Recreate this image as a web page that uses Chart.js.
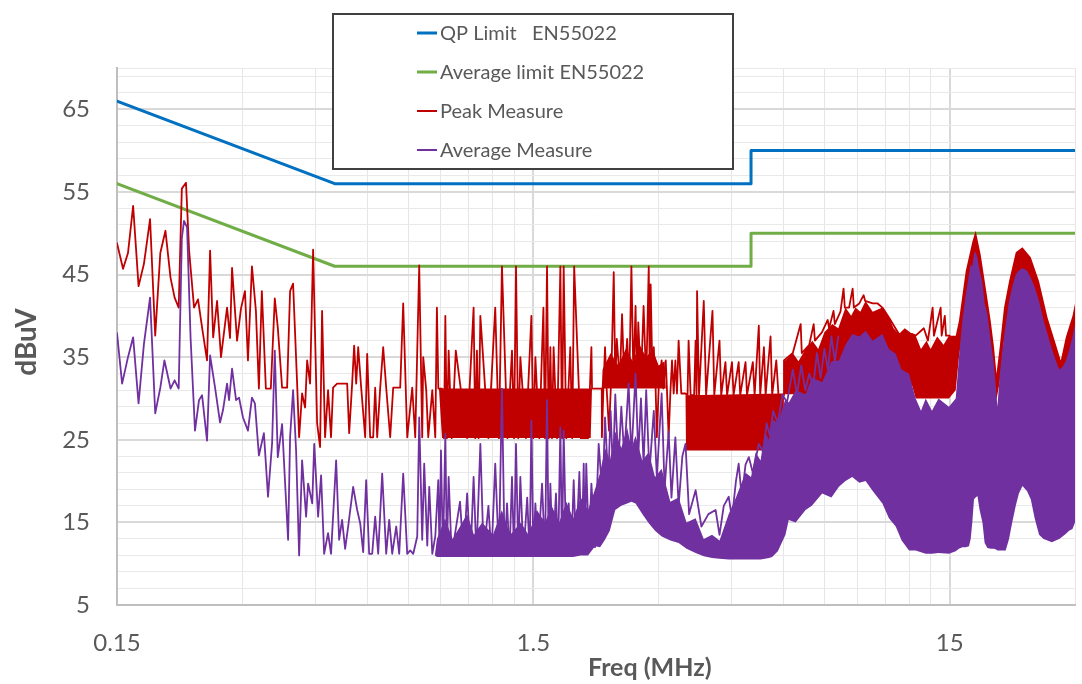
<!DOCTYPE html>
<html><head><meta charset="utf-8">
<script src="https://cdn.jsdelivr.net/npm/chart.js@4.4.1/dist/chart.umd.min.js"></script>
<style>html,body{margin:0;padding:0;background:#fff;}canvas{display:block;}</style>
</head><body>
<canvas id="c" width="1082" height="684"></canvas>
<script>
// ---------- DATA (frequency in MHz, level in dBuV) ----------
const qpLimitFreq = [0.15, 0.5, 5, 5, 30];
const qpLimitVal  = [66, 56, 56, 60, 60];
const avgLimitFreq = [0.15, 0.5, 5, 5, 30];
const avgLimitVal  = [56, 46, 46, 50, 50];

const peakFreq = [
0.150,0.1551,0.1594,0.1640,0.1690,0.1741,0.1801,0.1853,0.1906,0.1961,
0.2017,0.2063,0.2110,0.2147,0.2197,0.2235,0.2297,0.2348,0.2401,0.2468,
0.2510,0.2553,0.2609,0.2666,0.2757,0.2803,0.2834,0.2914,0.2978,0.3044,
0.3095,0.3164,0.3234,0.3288,0.3342,0.3417,0.3512,0.3590,0.3650,0.3738,
0.3843,0.3907,0.3972,0.4062,0.4107,0.4175,0.4245,0.4293,0.4364,0.4437,
0.4537,0.4612,0.4663,0.4741,0.4820,0.4900,0.4955,0.5068,0.5357,0.5417,
0.5507,0.5568,0.5631,0.5694,0.5789,0.5918,0.5984,0.6084,0.6186,0.6255,
0.6325,0.6431,0.6538,0.6648,0.6796,0.6910,0.7183,0.7303,0.7468,0.7677,
0.7806,0.7980,0.8113,0.8158,0.8295,0.8388,0.8578,0.8721,0.8800,0.8870,
0.9050,
0.915,0.922,0.930,0.939,0.955,0.977,1.040,1.078,1.088,1.098,
1.108,1.119,1.170,1.215,1.240,1.261,1.300,1.333,1.348,1.363,
1.380,1.396,1.440,1.484,1.500,1.517,1.550,1.586,1.600,1.618,
1.633,1.648,1.663,1.678,1.710,1.742,1.758,1.774,1.800,1.840,
1.860,1.880,1.950,2.030,2.068,2.075,
2.190,2.192,2.210,2.230,2.250,2.280,2.310,2.340,2.360,2.380,
2.420,2.450,2.480,2.520,2.550,2.580,2.610,2.640,2.660,2.680,
2.720,2.760,2.800,2.840,2.855,2.870,2.900,2.920,2.950,2.970,
3.000,3.050,3.080,3.120,3.140,3.170,3.200,3.230,3.260,3.290,
3.320,3.350,3.400,3.480,
3.520,3.540,3.580,3.650,3.680,3.700,3.710,3.750,3.850,3.900,
4.040,4.080,4.200,4.240,4.340,4.380,4.500,4.540,4.670,4.710,
4.850,4.890,5.050,5.100,5.220,5.260,5.370,5.420,5.570,5.620,
5.750,5.820,5.970,
6.000,6.300,6.580,6.620,6.900,7.070,7.120,7.400,7.640,7.700,
7.890,7.950,8.200,8.340,8.400,8.600,8.770,8.830,9.100,9.320,
9.400,9.800,10.070,10.340,10.720,11.330,12.200,12.430,13.000,13.300,
13.650,13.750,14.270,14.350,14.600,14.700,15.000
];
const peakVal = [
48.8,45.7,47.6,53.3,43.6,46.3,51.7,37.6,47.6,50.3,
44.6,42.2,41.0,55.4,56.1,47.9,41.0,42.0,38.6,34.6,
47.9,37.4,41.8,35.0,41.0,37.3,45.8,37.0,40.9,43.0,
34.6,46.0,40.6,31.2,43.0,31.2,31.2,42.1,38.6,31.3,
31.3,43.0,43.9,31.8,25.3,30.6,28.9,34.6,31.8,48.0,
27.0,24.1,40.6,25.3,31.0,25.3,31.3,31.8,31.8,25.8,
31.8,36.4,31.8,36.2,31.3,25.3,35.4,25.3,25.3,31.3,
25.3,31.3,36.2,31.3,25.3,31.3,31.3,41.5,25.3,31.3,
25.3,46.1,25.3,35.0,31.0,25.3,31.0,25.3,41.0,31.2,
31.2,
25.2,40.0,25.2,35.8,25.2,35.8,25.2,41.0,25.2,35.8,
25.2,40.0,25.2,41.0,25.2,46.0,25.2,35.8,25.2,46.0,
25.2,35.0,25.2,40.0,25.2,35.0,25.2,41.0,25.2,46.0,
25.2,36.2,25.2,36.2,25.2,46.0,25.2,46.0,25.2,36.2,
25.2,46.0,25.2,25.2,36.2,31.2,
31.2,25.3,31.2,36.2,31.2,26.1,33.0,45.3,32.0,37.2,
32.0,40.2,32.0,37.2,32.0,46.0,32.0,41.2,32.0,39.2,
32.0,41.2,32.0,46.0,32.0,43.8,32.0,36.2,31.2,25.3,
31.2,34.6,31.2,34.6,31.2,25.3,30.6,34.6,30.6,34.6,
30.6,37.0,30.6,30.6,
30.4,37.0,30.4,30.4,37.0,30.4,43.0,30.4,41.8,30.4,
40.6,30.4,37.0,30.4,34.4,30.4,34.4,30.4,34.4,30.4,
34.4,30.4,34.4,30.4,38.8,30.4,36.2,30.4,37.5,30.4,
34.6,30.4,30.4,
34.6,35.5,39.0,35.5,36.5,39.0,37.0,38.0,39.5,38.5,
40.6,39.0,40.5,43.3,41.0,41.0,43.3,41.0,41.5,42.5,
41.8,41.5,41.5,41.0,39.8,37.8,37.8,37.6,38.5,37.0,
41.0,37.6,41.0,37.6,40.0,37.6,37.6
];

const avgFreq = [
0.150,0.1543,0.1594,0.1640,0.1690,0.1741,0.1801,0.1853,0.1906,0.1950,
0.2017,0.2063,0.2110,0.2147,0.2173,0.2210,0.2253,0.2309,0.2361,0.2401,
0.2468,0.2510,0.2580,0.2652,0.2696,0.2757,0.2788,0.2834,0.2898,0.2946,
0.3011,0.3095,0.3164,0.3216,0.3288,0.3380,0.3458,0.3537,0.3590,0.3650,
0.3738,0.3801,0.3864,0.3907,0.3972,0.4039,0.4107,0.4175,0.4269,0.4316,
0.4416,0.4465,0.4562,0.4638,0.4716,0.4820,0.4900,0.5040,0.5124,0.5209,
0.5297,0.5386,0.5538,0.5662,0.5757,0.5853,0.5951,0.6050,0.6152,0.6255,
0.6360,0.6502,0.6648,0.6759,0.6872,0.7027,0.7144,0.7303,0.7468,0.7592,
0.7720,0.7893,0.7980,0.8113,0.8203,0.8343,0.8435,0.8578,0.8721,0.8866,
0.8930,0.9000,0.9100,0.9220,0.9300,0.9390,0.9550,1.0000,1.0200,1.0400,
1.0600,1.0780,1.0950,1.1190,1.1400,1.1700,1.1900,1.2150,1.2400,1.2610,
1.2800,1.2970,1.3150,1.3330,1.3480,1.3630,1.3800,1.3960,1.4200,1.4500,
1.4700,1.4840,1.5000,1.5170,1.5400,1.5740,1.6000,1.6180,1.6330,1.6480,
1.6700,1.7000,1.7200,1.7420,1.7580,1.7740,1.8000,1.8240,1.8500,1.8750,
1.9000,1.9350,1.9600,1.9820,1.9950,2.0100,2.0400,2.0680,2.1100,2.1530,
2.2000,2.2300,2.2700,2.3000,2.3300,2.3600,2.4000,2.4400,2.4800,2.5400,
2.5800,2.6400,2.6800,2.7200,2.7600,2.8000,2.8500,2.9200,2.9700,3.0500,
3.1000,3.1700,3.2200,3.2900,3.3500,3.4200,3.4800,3.5500,3.6800,3.8000,
3.9500,4.1100,4.2000,4.3000,4.4200,4.5000,4.6000,4.6700,4.7500,4.8500,
4.9400,5.0500,5.2200,5.3500,5.4500,5.5500,5.6500,5.8000,5.9500,6.1000,
6.3000,6.4500,6.6000,6.7500,6.9000,7.0500,7.2000,7.3500,7.5000,7.6500,
7.8000,7.9500,8.1000
];
const avgVal = [
37.9,31.8,35.0,37.4,29.4,36.6,42.2,28.2,31.3,34.6,
31.2,32.2,31.2,49.4,51.5,50.7,37.4,26.1,29.8,30.4,
24.9,35.2,31.3,27.1,28.6,31.8,29.8,33.6,29.8,30.1,
27.7,26.1,30.1,29.4,23.1,25.8,18.1,24.6,35.8,22.9,
26.9,19.7,12.9,25.3,31.0,23.7,11.0,22.5,15.7,19.7,
17.3,24.5,15.7,20.7,11.2,13.7,11.2,22.5,12.9,15.3,
11.8,14.5,19.3,16.5,14.9,11.4,20.1,11.2,11.2,15.7,
11.2,20.9,11.2,15.3,11.2,14.5,11.2,20.9,11.2,11.6,
11.2,13.3,27.7,12.9,22.1,12.2,19.3,11.2,13.3,20.1,
11.0,23.7,11.0,25.7,11.0,20.5,11.0,17.5,11.0,18.5,
11.0,20.5,11.0,24.5,11.0,17.0,11.0,22.1,11.0,31.2,
11.0,17.3,11.0,20.5,11.0,24.5,11.0,20.5,11.0,18.0,
11.0,27.3,11.0,17.3,11.0,19.7,11.0,29.8,11.0,19.7,
11.0,18.5,11.0,26.5,11.0,26.1,11.0,17.3,11.0,20.1,
11.5,21.1,11.5,22.1,12.0,22.1,12.0,19.7,12.0,24.5,
18.0,27.7,20.0,28.5,21.0,30.5,22.0,29.0,23.0,31.8,
23.0,33.0,23.0,30.0,22.0,31.0,21.0,28.5,20.5,30.6,
19.0,26.0,18.0,25.3,17.0,23.0,24.5,16.0,18.9,14.5,
16.0,16.5,13.5,17.0,18.1,15.5,20.0,22.1,18.0,22.0,
22.9,21.0,24.5,23.5,27.0,25.5,28.5,27.0,30.5,29.5,
33.5,30.5,34.0,31.0,33.0,31.5,35.5,32.5,36.0,33.5,
37.5,34.5,37.5
];

// dense regions read as envelopes (upper / lower)
const peakBandFreq = [
0.890,0.905,2.060,2.075,2.190,2.200,2.300,2.400,2.500,2.600,
2.700,2.800,2.900,3.000,3.100,3.120,3.480,3.490,5.970,6.000,
6.050,6.300,6.500,6.760,7.020,7.250,7.500,7.840,8.100,8.430,
8.700,8.910,9.150,9.420,9.800,10.340,10.720,11.000,11.330,11.700,
12.200,12.430,12.800,13.200,13.500,14.000,14.500,14.940,15.510,15.790,
16.390,17.010,17.320,17.810,18.310,18.820,19.170,19.430,19.780,20.260,
20.830,21.620,22.430,23.490,24.590,25.770,26.970,27.730,28.510,29.590,
30.000];
const peakBandHi = [
31.2,31.2,31.2,31.2,31.2,33.5,35.5,34.0,36.0,34.5,
36.5,35.0,36.0,34.0,34.5,31.2,30.6,30.4,30.6,34.6,
34.6,35.5,34.5,36.0,37.0,36.0,38.0,39.0,38.5,41.0,
40.0,41.0,40.5,41.8,40.5,41.0,39.8,38.5,37.8,38.5,
37.8,37.6,36.0,37.0,36.0,37.5,36.5,37.6,37.6,39.4,
45.4,49.0,50.3,47.4,43.4,39.4,36.2,33.0,36.2,41.0,
44.2,47.7,48.3,47.1,44.2,39.8,36.6,34.6,37.4,40.0,
41.5];
const peakBandLo = [
31.2,25.2,25.2,31.2,31.2,31.2,31.2,31.2,31.2,31.2,
31.2,31.2,31.2,31.2,31.2,31.2,30.6,23.7,23.7,30.5,
30.5,30.5,30.5,30.5,30.5,30.5,30.8,31.0,31.5,32.0,
33.0,34.0,34.0,34.0,33.5,33.0,32.0,31.5,31.0,31.0,
31.5,30.0,30.0,30.0,30.0,30.0,30.0,30.0,31.0,35.0,
41.0,45.0,46.5,44.0,40.0,35.0,32.0,29.8,32.0,37.0,
40.5,44.5,45.5,44.0,41.0,37.0,34.0,32.5,34.0,36.0,
37.0];

const avgBandFreq = [
0.870,0.880,0.920,0.960,1.000,1.040,1.080,1.130,1.200,1.260,
1.320,1.400,1.460,1.530,1.600,1.660,1.730,1.800,1.870,1.950,
2.030,2.110,2.170,2.230,2.290,2.360,2.440,2.520,2.580,2.640,
2.740,2.840,2.940,3.050,3.200,3.350,3.500,3.680,3.850,4.030,
4.200,4.420,4.600,4.850,5.000,5.130,5.270,5.400,5.520,5.620,
5.800,6.050,6.160,6.400,6.760,7.000,7.410,7.800,8.130,8.430,
8.750,9.100,9.420,9.800,10.340,10.720,11.130,11.500,11.980,12.430,
12.800,13.140,13.600,14.100,14.940,15.510,15.790,16.090,16.390,16.690,
16.850,17.000,17.160,17.320,17.490,17.700,17.980,18.200,18.480,18.820,
19.170,19.430,19.530,19.800,20.080,20.450,20.830,21.200,21.620,22.000,
22.430,23.000,23.490,24.000,24.590,25.200,25.770,26.400,26.970,27.500,
27.990,28.500,29.030,29.590,30.000];
const avgBandHi = [
11.0,13.0,15.5,13.0,14.5,16.0,13.5,15.0,13.5,16.5,
13.5,15.0,13.5,16.5,15.0,17.0,15.0,17.5,15.5,18.0,
16.5,19.0,21.0,24.0,22.5,26.0,24.0,26.5,24.0,25.5,
22.5,23.5,20.5,21.5,17.5,18.0,15.0,15.5,13.0,13.5,
12.8,16.0,18.0,21.0,20.5,23.5,22.5,26.0,25.0,27.5,
27.0,30.0,29.5,31.0,30.5,32.5,32.0,34.5,34.6,36.5,
37.8,37.5,38.2,37.0,37.8,36.0,35.4,33.5,33.0,30.0,
28.5,30.0,28.5,30.0,29.0,30.0,35.0,39.4,42.5,45.0,
46.2,46.0,47.5,47.8,47.0,45.5,44.0,41.5,40.2,37.0,
34.0,30.5,29.0,33.0,35.8,39.0,41.8,43.5,45.0,45.5,
45.8,45.5,44.6,43.5,41.8,39.5,37.8,36.0,34.6,33.5,
33.8,34.5,35.8,37.5,39.0];
const avgBandLo = [
11.0,10.8,10.8,10.8,10.8,10.8,10.8,10.8,10.8,10.8,
10.8,10.8,10.8,10.8,10.8,10.8,10.8,10.8,10.8,11.0,
11.0,12.1,12.0,12.9,14.0,16.5,17.0,17.3,17.5,17.3,
16.0,14.9,14.0,13.3,12.8,12.5,11.8,11.3,10.9,10.7,
10.6,10.5,10.5,10.5,10.5,10.5,10.5,10.6,10.7,10.8,
11.5,13.5,15.3,15.0,16.5,17.0,18.5,18.0,19.3,20.0,
20.5,19.8,20.0,18.8,17.3,15.5,14.5,12.8,11.6,11.6,
11.4,11.2,11.2,11.3,11.2,11.5,11.8,12.0,12.0,12.1,
13.0,15.0,17.8,18.0,18.2,16.5,15.0,12.5,11.9,11.8,
11.8,11.7,11.6,11.6,11.6,11.6,13.0,15.0,17.0,18.5,
19.4,18.8,17.8,15.5,13.5,13.0,12.8,12.6,12.8,13.0,
13.3,13.6,14.0,14.2,15.0];

// axes / ticks / text
const xGridValues = [0.15,0.3,0.45,0.6,0.75,0.9,1.05,1.2,1.35,1.5,3,4.5,6,7.5,9,10.5,12,13.5,15,30];
const xLabelValues = [0.15, 1.5, 15];
const xLabelText = ['0.15', '1.5', '15'];
const yGridValues = [5,7,9,11,13,15,17,19,21,23,25,27,29,31,33,35,37,39,41,43,45,47,49,51,53,55,57,59,61,63,65,67,69,70];
const yLabelValues = [5,15,25,35,45,55,65];
const xTitle = 'Freq (MHz)';
const yTitle = 'dBuV';
const seriesNames = ['QP Limit   EN55022', 'Average limit EN55022', 'Peak Measure', 'Average Measure'];

// ---------- STYLE ----------
const RED = '#C00000', PURPLE = '#7030A0', BLUE = '#0070C0', GREEN = '#70AD47', TXT = '#595959';
const seriesColors = [BLUE, GREEN, RED, PURPLE];
const swatchWidths = [3, 3, 2, 2];

const pts = (fs, vs) => fs.map((f, i) => ({x: f, y: vs[i]}));

Chart.defaults.font.family = 'Lato, "Open Sans", sans-serif';

const overlay = {
  id: 'overlay',
  afterDraw(chart) {
    const ctx = chart.ctx;
    ctx.save();
    ctx.fillStyle = TXT;
    ctx.font = 'bold 25px Lato';
    ctx.textAlign = 'left';
    ctx.textBaseline = 'alphabetic';
    ctx.fillText(xTitle, 588, 676);
    ctx.save();
    ctx.translate(36, 342);
    ctx.rotate(-Math.PI / 2);
    ctx.textAlign = 'center';
    ctx.font = 'bold 28px Lato';
    ctx.fillText(yTitle, 0, 0);
    ctx.restore();
    ctx.fillStyle = '#ffffff';
    ctx.fillRect(333, 14, 400, 155);
    ctx.strokeStyle = '#404040';
    ctx.lineWidth = 2;
    ctx.strokeRect(333, 14, 400, 155);
    const rows = [33, 72, 111, 150];
    ctx.font = '20px Lato';
    ctx.textBaseline = 'middle';
    ctx.textAlign = 'left';
    seriesNames.forEach((name, i) => {
      ctx.strokeStyle = seriesColors[i];
      ctx.lineWidth = swatchWidths[i];
      ctx.beginPath();
      ctx.moveTo(417, rows[i]);
      ctx.lineTo(437, rows[i]);
      ctx.stroke();
      ctx.fillStyle = TXT;
      ctx.fillText(name, 440, rows[i] + 1);
    });
    ctx.restore();
  }
};

new Chart(document.getElementById('c'), {
  type: 'line',
  data: {
    datasets: [
      {label: 'avgBandHi', data: pts(avgBandFreq, avgBandHi), borderColor: 'rgba(0,0,0,0)', borderWidth: 1,
       backgroundColor: PURPLE, fill: '+1', order: 0},
      {label: 'avgBandLo', data: pts(avgBandFreq, avgBandLo), borderColor: 'rgba(0,0,0,0)', borderWidth: 1,
       fill: false, order: 0},
      {label: 'Average Measure', data: pts(avgFreq, avgVal), borderColor: PURPLE, borderWidth: 1.8, fill: false, order: 0},
      {label: 'peakBandHi', data: pts(peakBandFreq, peakBandHi), borderColor: 'rgba(0,0,0,0)', borderWidth: 1,
       backgroundColor: RED, fill: '+1', order: 2},
      {label: 'peakBandLo', data: pts(peakBandFreq, peakBandLo), borderColor: 'rgba(0,0,0,0)', borderWidth: 1,
       fill: false, order: 2},
      {label: 'Peak Measure', data: pts(peakFreq, peakVal), borderColor: RED, borderWidth: 1.8, fill: false, order: 2},
      {label: 'Average limit EN55022', data: pts(avgLimitFreq, avgLimitVal), borderColor: GREEN, borderWidth: 3, fill: false, order: 4},
      {label: 'QP Limit EN55022', data: pts(qpLimitFreq, qpLimitVal), borderColor: BLUE, borderWidth: 3, fill: false, order: 5}
    ]
  },
  options: {
    responsive: false,
    animation: false,
    devicePixelRatio: 1,
    layout: {padding: {top: 68, right: 7, left: 0, bottom: 0}},
    plugins: {legend: {display: false}, tooltip: {enabled: false}},
    elements: {point: {radius: 0}, line: {tension: 0, borderJoinStyle: 'round', borderCapStyle: 'round'}},
    scales: {
      x: {
        type: 'logarithmic', min: 0.15, max: 30,
        afterBuildTicks: s => { s.ticks = xGridValues.map(v => ({value: v})); },
        afterFit: s => { s.height = 79; s.paddingLeft = 0; s.paddingRight = 0; },
        grid: {
          drawTicks: false,
          color: c => (c.tick && (c.tick.value === 1.5 || c.tick.value === 15)) ? '#d9d9d9' : '#e6e6e6',
          lineWidth: c => (c.tick && (c.tick.value === 1.5 || c.tick.value === 15)) ? 2 : 1
        },
        border: {color: '#bfbfbf', width: 2},
        ticks: {
          autoSkip: false, maxRotation: 0, minRotation: 0, padding: 24, color: TXT, font: {size: 24},
          callback: v => { const i = xLabelValues.indexOf(v); return i >= 0 ? xLabelText[i] : ''; }
        }
      },
      y: {
        type: 'linear', min: 5, max: 70,
        afterBuildTicks: s => { s.ticks = yGridValues.map(v => ({value: v})); },
        afterFit: s => { s.width = 117; s.paddingTop = 0; s.paddingBottom = 0; },
        grid: {
          drawTicks: false,
          color: c => (c.tick && yLabelValues.includes(c.tick.value)) ? '#d9d9d9' : '#e9e9e9',
          lineWidth: c => (c.tick && yLabelValues.includes(c.tick.value)) ? 2 : 1
        },
        border: {color: '#bfbfbf', width: 2},
        ticks: {
          autoSkip: false, padding: 27, color: TXT, font: {size: 24},
          callback: v => yLabelValues.includes(v) ? String(v) : ''
        }
      }
    }
  },
  plugins: [overlay]
});
</script>
</body></html>
